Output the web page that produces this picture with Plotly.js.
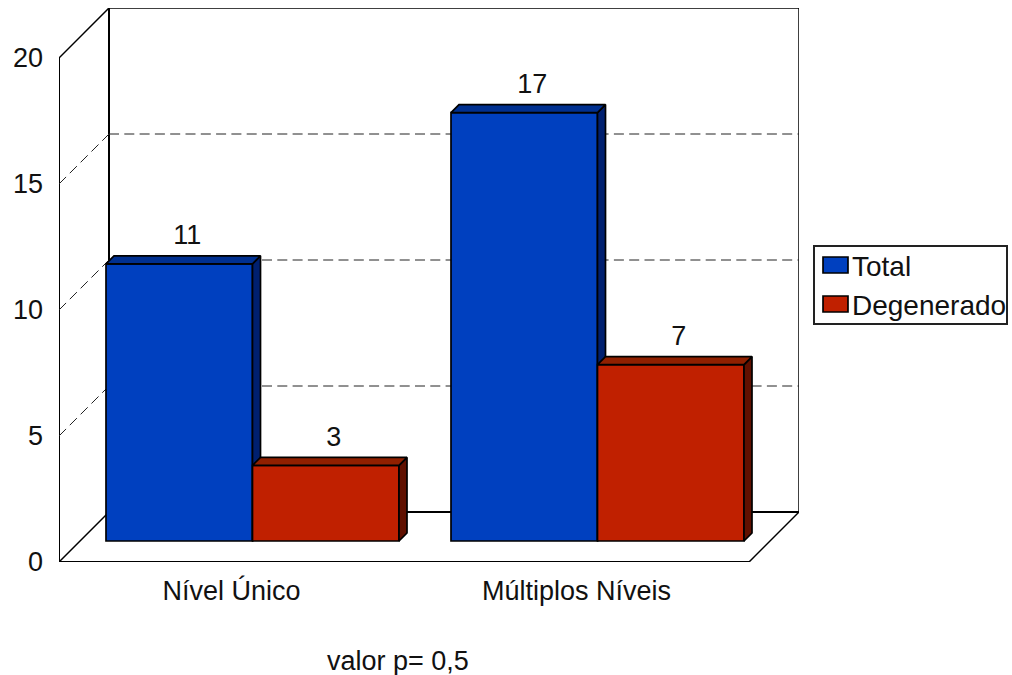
<!DOCTYPE html>
<html>
<head>
<meta charset="utf-8">
<script src="https://cdn.plot.ly/plotly-3.0.1.min.js"></script>
<style>
  html, body { margin: 0; padding: 0; background: #fff; }
</style>
</head>
<body>
<div id="chart" style="width:1012px;height:675px"></div>
<script>
// Chart data
const categories = ['Nível Único', 'Múltiplos Níveis'];
const seriesTotal = [11, 17];
const seriesDegenerado = [3, 7];
const yTicks = [0, 5, 10, 15, 20];
const gridValues = [5, 10, 15];
const note = 'valor p= 0,5';

// Scale and perspective settings, in axis units
const X_PER_CAT = 345, Y_PER_UNIT = 25.2;
const xRange = [-0.5, -0.5 + 740 / X_PER_CAT];
const yRange = [0, 554 / Y_PER_UNIT];
const wallDx = 50 / X_PER_CAT, wallDy = 50 / Y_PER_UNIT;
const barDx = 8 / X_PER_CAT, barDy = 8 / Y_PER_UNIT;
const barBase = 21 / Y_PER_UNIT;
const barWidth = 146.5 / X_PER_CAT;
const offsets = [-125.5 / X_PER_CAT, 21 / X_PER_CAT];
const labelLift = 26.5 / Y_PER_UNIT;

const FONT = 'Liberation Sans, Arial, sans-serif';
const FONT_SIZE = 27;
const TEXT = '#111';
const palette = {
  Total: { front: '#0040BF', side: '#002070', top: '#003090' },
  Degenerado: { front: '#C02000', side: '#601000', top: '#902000' }
};

const xs = categories.map((_, i) => i);
const traces = [];

function addSeries(name, values, offset, z) {
  const c = palette[name];
  const edge = { color: '#000', width: 1.7 };
  traces.push({
    type: 'bar', name, x: xs, y: values, base: barBase,
    offset, width: barWidth, zorder: z,
    marker: { color: c.front, line: edge },
    hovertemplate: name + ': %{y}<extra></extra>'
  });
  values.forEach((v, i) => {
    const x0 = xs[i] + offset, x1 = x0 + barWidth;
    const b = barBase, t = barBase + v;
    // right-hand face
    traces.push({
      type: 'scatter', mode: 'lines', showlegend: false, hoverinfo: 'skip', zorder: z + 1,
      x: [x1, x1 + barDx, x1 + barDx, x1, x1],
      y: [t, t + barDy, b + barDy, b, t],
      fill: 'toself', fillcolor: c.side, line: edge
    });
    // top face
    traces.push({
      type: 'scatter', mode: 'lines', showlegend: false, hoverinfo: 'skip', zorder: z + 1,
      x: [x0, x0 + barDx, x1 + barDx, x1, x0],
      y: [t, t + barDy, t + barDy, t, t],
      fill: 'toself', fillcolor: c.top, line: edge
    });
  });
  // value labels above each column
  traces.push({
    type: 'scatter', mode: 'text', showlegend: false, hoverinfo: 'skip', zorder: 10,
    x: xs.map(i => i + offset + barWidth / 2 + barDx),
    y: values.map(v => barBase + v + labelLift),
    text: values.map(String),
    textposition: 'middle center',
    textfont: { family: FONT, size: FONT_SIZE, color: TEXT }
  });
}

addSeries('Total', seriesTotal, offsets[0], 1);
addSeries('Degenerado', seriesDegenerado, offsets[1], 3);

// Walls and floor of the chart box
const left = xRange[0], right = 1.5;
const line = (x0, y0, x1, y1, width, extra) => ({
  type: 'line', layer: 'below', x0, y0, x1, y1,
  line: Object.assign({ color: '#000', width }, extra || {})
});
const top20 = yTicks[yTicks.length - 1];
const shapes = [
  line(left, 0, left, top20, 2),
  line(left, top20, left + wallDx, top20 + wallDy, 1.5),
  line(left + wallDx, wallDy, left + wallDx, top20 + wallDy, 2),
  line(left + wallDx, top20 + wallDy, right + wallDx, top20 + wallDy, 1.5),
  line(right + wallDx, wallDy, right + wallDx, top20 + wallDy, 1.5),
  line(left, 0, right, 0, 2),
  line(left, 0, left + wallDx, wallDy, 1.5),
  line(right, 0, right + wallDx, wallDy, 1.5),
  line(left + wallDx, wallDy, right + wallDx, wallDy, 2)
];
const dashed = { color: '#222', dash: '10px,5.3px' };
gridValues.forEach(v => {
  shapes.push(line(left, v, left + wallDx, v + wallDy, 1, dashed));
  shapes.push(line(left + wallDx, v + wallDy, right + wallDx, v + wallDy, 1, dashed));
});

const layout = {
  width: 1012, height: 675,
  paper_bgcolor: '#fff', plot_bgcolor: '#fff',
  margin: { l: 59, r: 213, t: 8, b: 113, pad: 0, autoexpand: false },
  barmode: 'overlay',
  showlegend: true,
  font: { family: FONT, size: FONT_SIZE, color: TEXT },
  xaxis: {
    range: xRange, fixedrange: true, showgrid: false, zeroline: false, showline: false,
    tickmode: 'array', tickvals: xs, ticktext: categories, ticks: '',
    ticklabelstandoff: 10, tickfont: { family: FONT, size: FONT_SIZE, color: TEXT }
  },
  yaxis: {
    range: yRange, fixedrange: true, showgrid: false, zeroline: false, showline: false,
    tickmode: 'array', tickvals: yTicks, ticktext: yTicks.map(String), ticks: '',
    ticklabelstandoff: 15, tickfont: { family: FONT, size: FONT_SIZE, color: TEXT }
  },
  legend: {
    x: 754 / 740, xanchor: 'left', y: 317 / 554, yanchor: 'top',
    bgcolor: '#fff', bordercolor: '#222', borderwidth: 1.5,
    font: { family: FONT, size: 28, color: TEXT },
    itemclick: false, itemdoubleclick: false
  },
  shapes,
  annotations: [{
    text: note, showarrow: false, xref: 'x', yref: 'paper',
    x: (398 - 231.5) / X_PER_CAT, xanchor: 'center',
    y: (562 - 661) / 554, yanchor: 'middle',
    font: { family: FONT, size: FONT_SIZE, color: TEXT }
  }]
};

Plotly.newPlot('chart', traces, layout, { displayModeBar: false }).then(gd => {
  // Larger legend keys, a tighter box and more open rows
  gd.querySelectorAll('.legendpoints path').forEach(p => {
    if (!p.getAttribute('d')) return;
    p.setAttribute('transform', 'translate(22.5,0) scale(2.08,1.33)');
    p.style.vectorEffect = 'non-scaling-stroke';
  });
  const rows = [...gd.querySelectorAll('.legend .traces')];
  const rowY = [20, 59];
  rows.forEach((r, i) => r.setAttribute('transform', `translate(0,${rowY[i]})`));
  gd.querySelectorAll('.legendtext').forEach(t => t.setAttribute('transform', 'translate(-1,0)'));
  const bg = gd.querySelector('.legend .bg');
  bg.setAttribute('width', 193);
  bg.setAttribute('height', 78);
  gd.querySelector('.legend .scrollbox').removeAttribute('clip-path');
});
</script>
</body>
</html>
